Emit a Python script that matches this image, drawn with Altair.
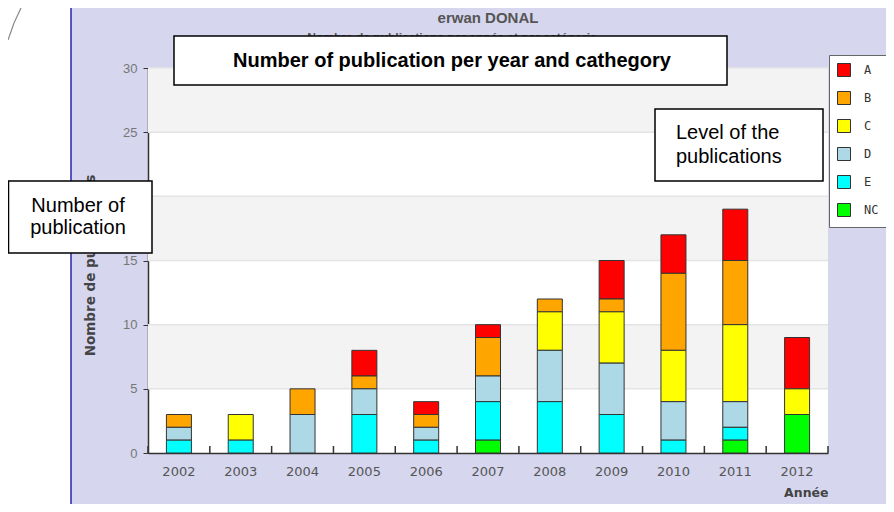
import altair as alt
import pandas as pd

years = ["2002", "2003", "2004", "2005", "2006", "2007", "2008", "2009", "2010", "2011", "2012"]
cat_A = [0, 0, 0, 2, 1, 1, 0, 3, 3, 4, 4]
cat_B = [1, 0, 2, 1, 1, 3, 1, 1, 6, 5, 0]
cat_C = [0, 2, 0, 0, 0, 0, 3, 4, 4, 6, 2]
cat_D = [1, 0, 3, 2, 1, 2, 4, 4, 3, 2, 0]
cat_E = [1, 1, 0, 3, 1, 3, 4, 3, 1, 1, 0]
cat_NC = [0, 0, 0, 0, 0, 1, 0, 0, 0, 1, 3]
categories = ["A", "B", "C", "D", "E", "NC"]
colors = ["#ff0000", "#ffa500", "#ffff00", "#add8e6", "#00ffff", "#00ff00"]
y_ticks = [0, 5, 10, 15, 20, 25, 30]
band_lo = [5, 15, 25]
band_hi = [10, 20, 30]

series = {"A": cat_A, "B": cat_B, "C": cat_C, "D": cat_D, "E": cat_E, "NC": cat_NC}
rows = []
for cat in categories:
    for yr, v in zip(years, series[cat]):
        if v > 0:
            rows.append({"year": yr, "cat": cat, "count": v,
                         "rank": len(categories) - categories.index(cat)})
df = pd.DataFrame(rows)
bands = pd.DataFrame({"lo": band_lo, "hi": band_hi})
grid = pd.DataFrame({"v": y_ticks[1:]})
yr_df = pd.DataFrame({"year": years})
one = pd.DataFrame({"a": [0]})

W, H = 680, 385
yscale = alt.Scale(domain=[0, 30], nice=False)
xscale = alt.Scale(paddingInner=0, paddingOuter=0)

yaxis = alt.Axis(values=y_ticks, title="Nombre de publications",
                 labelColor="#777777", labelFont="Liberation Sans",
                 labelFontSize=13, tickSize=5, tickColor="#333333",
                 domainColor="#333333", domainWidth=1.5, labelPadding=6,
                 grid=False, titleX=-51, titleY=197,
                 titleFont="DejaVu Sans", titleFontSize=13.5,
                 titleFontWeight="bold", titleColor="#444444")
xaxis = alt.Axis(title="Année", labelAngle=0, labelColor="#555555",
                 labelFont="DejaVu Sans", labelFontSize=13, ticks=False,
                 domainColor="#333333", domainWidth=1.5, labelPadding=12,
                 grid=False, titleAnchor="end", titleAlign="right",
                 titleX=W, titleY=43, titleBaseline="alphabetic",
                 titleFont="DejaVu Sans", titleFontSize=12.5,
                 titleFontWeight="bold", titleColor="#444444")


def rect(x, x2, y, y2, fill="white", stroke="black", sw=1.5):
    return alt.Chart(one).mark_rect(fill=fill, stroke=stroke, strokeWidth=sw).encode(
        x=alt.value(x), x2=alt.value(x2), y=alt.value(y), y2=alt.value(y2))


def rule(x, x2, y, y2, color, sw=1.0):
    return alt.Chart(one).mark_rule(color=color, strokeWidth=sw).encode(
        x=alt.value(x), x2=alt.value(x2), y=alt.value(y), y2=alt.value(y2))


def txt(s, x, y, size, weight="normal", color="black", align="center",
        baseline="middle", font="Liberation Sans"):
    return alt.Chart(one).mark_text(
        text=s, fontSize=size, fontWeight=weight, color=color, align=align,
        baseline=baseline, font=font).encode(x=alt.value(x), y=alt.value(y))


# background decorations (outside plot)
left_white = rect(-140, -77, -60, 440, fill="white", stroke="white", sw=0)
blue_border = rule(-77, -77, -60, 440, "#2626a8", 1.5)
curve_a = rule(-127, -134, -60, -45, "#888888", 1.2)
curve_b = rule(-134, -140, -45, -28, "#888888", 1.2)

band_layer = alt.Chart(bands).mark_rect(color="#f3f3f3").encode(
    x=alt.value(0), x2=alt.value(W),
    y=alt.Y("lo:Q", scale=yscale, axis=yaxis),
    y2="hi:Q")

grid_layer = alt.Chart(grid).mark_rule(color="#e4e4e4", strokeWidth=1.5).encode(
    x=alt.value(0), x2=alt.value(W),
    y=alt.Y("v:Q", scale=yscale, axis=yaxis))

bars = alt.Chart(df).mark_bar(width=25, stroke="#333333", strokeWidth=1).encode(
    x=alt.X("year:N", scale=xscale, axis=xaxis),
    y=alt.Y("count:Q", stack="zero", scale=yscale, axis=yaxis),
    color=alt.Color("cat:N", scale=alt.Scale(domain=categories, range=colors),
                    legend=alt.Legend(orient="none", legendX=681, legendY=-13,
                                      title=None, fillColor="white",
                                      strokeColor="#666666", padding=8,
                                      symbolType="square", symbolSize=169,
                                      symbolStrokeColor="#333333",
                                      symbolStrokeWidth=1,
                                      labelFont="DejaVu Sans Mono",
                                      labelFontSize=12, labelColor="#333333",
                                      rowPadding=10, labelOffset=13)),
    order=alt.Order("rank:Q", sort="ascending"))

ticks0 = alt.Chart(yr_df).mark_rule(color="#333333", strokeWidth=1.5).encode(
    x=alt.X("year:N", bandPosition=0, scale=xscale, axis=xaxis),
    y=alt.value(H), y2=alt.value(H - 7))
ticks1 = alt.Chart(yr_df).transform_filter(alt.datum.year == "2012").mark_rule(
    color="#333333", strokeWidth=1.5).encode(
    x=alt.X("year:N", bandPosition=1, scale=xscale, axis=xaxis),
    y=alt.value(H), y2=alt.value(H - 7))

title1 = txt("erwan DONAL", 340, -50, 15, "bold", "#555555")
subtitle = txt("Nombre de publications par année et par catégorie", 304, -30, 12,
               "bold", "#555555")

box_title = rect(26, 579, -32, 17)
box_title_t = txt("Number of publication per year and cathegory", 304, -7, 20, "bold")

box_level = rect(507, 675, 41, 113)
box_level_t1 = txt("Level of the", 528, 71, 20, align="left", baseline="alphabetic")
box_level_t2 = txt("publications", 528, 95, 20, align="left", baseline="alphabetic")

box_num = rect(-139.5, 4, 113, 185)
box_num_t1 = txt("Number of", -70, 144, 20, baseline="alphabetic")
box_num_t2 = txt("publication", -70, 166, 20, baseline="alphabetic")

chart = alt.layer(
    left_white, blue_border, curve_a, curve_b,
    band_layer, grid_layer, bars, ticks0, ticks1,
    title1, subtitle, box_title, box_title_t,
    box_level, box_level_t1, box_level_t2,
    box_num, box_num_t1, box_num_t2,
).properties(
    width=W, height=H,
    autosize=alt.AutoSizeParams(type="none"),
    padding={"left": 140, "top": 60, "right": 58, "bottom": 51},
    background="#d6d6ee",
).configure_view(fill="white", strokeWidth=0)

chart.save("out.html", embed_options={"renderer": "svg", "actions": False})
